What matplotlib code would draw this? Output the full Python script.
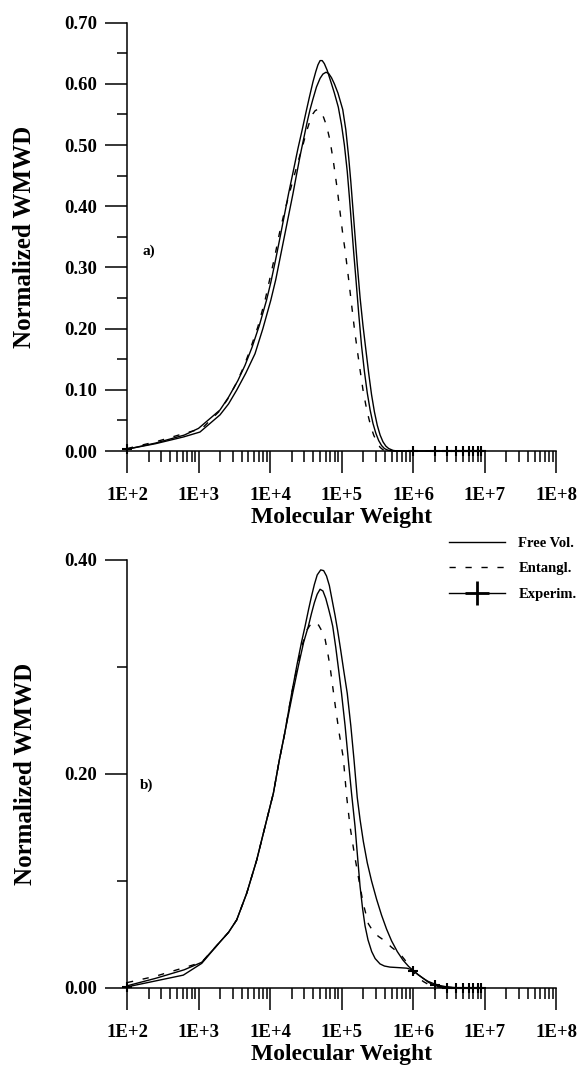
import numpy as np
import matplotlib.pyplot as plt
from matplotlib.lines import Line2D
from matplotlib.ticker import FixedLocator, FuncFormatter, NullFormatter

plt.rcParams['font.family'] = ['Liberation Serif', 'DejaVu Serif']
plt.rcParams['font.weight'] = 'bold'

# === PANEL a) : log10(M) and normalized WMWD ===
a_free_logm = [2.0, 2.4, 2.8, 3.0, 3.3, 3.42, 3.55, 3.65, 3.75, 3.85, 3.95, 4.01, 4.07, 4.13,
               4.2, 4.26, 4.33, 4.39, 4.45, 4.50, 4.55, 4.60, 4.64, 4.67, 4.70, 4.73, 4.76,
               4.80, 4.86, 4.90, 4.955, 5.0, 5.04, 5.08, 5.11, 5.14, 5.17, 5.2, 5.24, 5.28,
               5.32, 5.36, 5.40, 5.44, 5.48, 5.52, 5.56, 5.60, 5.65, 5.72, 6.0, 7.0]
a_free_w = [0.003, 0.013, 0.026, 0.037, 0.067, 0.088, 0.115, 0.14, 0.17, 0.205, 0.246, 0.275,
            0.308, 0.343, 0.385, 0.421, 0.46, 0.494, 0.525, 0.552, 0.578, 0.603, 0.620, 0.631,
            0.638, 0.638, 0.633, 0.622, 0.60, 0.585, 0.562, 0.533, 0.50, 0.457, 0.415, 0.37,
            0.325, 0.283, 0.225, 0.172, 0.13, 0.095, 0.067, 0.045, 0.029, 0.017, 0.009, 0.004,
            0.0012, 0.0, 0.0, 0.0]

a_ent_logm = [2.0, 2.4, 2.75, 3.05, 3.3, 3.42, 3.534, 3.63, 3.72, 3.83, 3.93, 4.0, 4.07, 4.13,
              4.2, 4.28, 4.35, 4.41, 4.46, 4.51, 4.56, 4.60, 4.63, 4.66, 4.69, 4.72, 4.75,
              4.78, 4.81, 4.84, 4.89, 4.94, 4.98, 5.02, 5.05, 5.1, 5.14, 5.18, 5.22, 5.26,
              5.30, 5.34, 5.376, 5.41, 5.45, 5.50, 5.54, 5.58, 5.65, 6.0, 7.0]
a_ent_w = [0.004, 0.015, 0.027, 0.037, 0.066, 0.087, 0.112, 0.137, 0.165, 0.203, 0.246, 0.283,
           0.32, 0.355, 0.39, 0.425, 0.455, 0.48, 0.50, 0.522, 0.540, 0.551, 0.556, 0.558,
           0.557, 0.552, 0.545, 0.535, 0.522, 0.507, 0.47, 0.428, 0.39, 0.352, 0.328, 0.28,
           0.24, 0.20, 0.165, 0.132, 0.10, 0.075, 0.056, 0.04, 0.026, 0.013, 0.006, 0.002,
           0.0, 0.0, 0.0]

a_exp_logm = [2.0, 2.4, 2.79, 3.02, 3.3, 3.42, 3.534, 3.66, 3.79, 3.9, 4.01, 4.08, 4.14, 4.2,
              4.26, 4.32, 4.373, 4.42, 4.47, 4.52, 4.56, 4.60, 4.65, 4.70, 4.74, 4.783, 4.82,
              4.86, 4.90, 4.95, 5.017, 5.06, 5.10, 5.13, 5.16, 5.19, 5.22, 5.26, 5.30, 5.343,
              5.38, 5.42, 5.46, 5.50, 5.54, 5.58, 5.62, 5.66, 5.72, 5.78, 6.0, 7.0]
a_exp_w = [0.003, 0.012, 0.023, 0.031, 0.059, 0.077, 0.0995, 0.127, 0.159, 0.2, 0.246, 0.28,
           0.315, 0.35, 0.385, 0.42, 0.453, 0.482, 0.51, 0.538, 0.558, 0.575, 0.595, 0.609,
           0.616, 0.619, 0.617, 0.610, 0.60, 0.585, 0.558, 0.525, 0.48, 0.44, 0.395, 0.35,
           0.305, 0.25, 0.205, 0.163, 0.127, 0.092, 0.064, 0.042, 0.026, 0.015, 0.008, 0.004,
           0.001, 0.0, 0.0, 0.0]

a_pts_m = [1e2, 1e6, 2e6, 3e6, 4e6, 5e6, 6e6, 7e6, 8e6, 9e6]
a_pts_w = [0.003, 0.0, 0.0, 0.0, 0.0, 0.0, 0.0, 0.0, 0.0, 0.0]

# === PANEL b) ===
b_free_logm = [2.0, 2.4, 2.8, 3.045, 3.3, 3.42, 3.534, 3.674, 3.814, 3.93, 4.047, 4.13, 4.2,
               4.303, 4.38, 4.44, 4.49, 4.54, 4.58, 4.62, 4.66, 4.709, 4.75, 4.79, 4.83, 4.87,
               4.91, 4.946, 4.99, 5.03, 5.08, 5.13, 5.175, 5.22, 5.26, 5.305, 5.36, 5.42, 5.49,
               5.56, 5.63, 5.70, 5.78, 5.86, 5.94, 6.0, 6.07, 6.14, 6.21, 6.284, 6.36, 6.45,
               6.56, 6.66, 7.0]
b_free_w = [0.002, 0.009, 0.017, 0.024, 0.043, 0.052, 0.0636, 0.0885, 0.1196, 0.1508, 0.182,
            0.213, 0.236, 0.2754, 0.303, 0.323, 0.338, 0.354, 0.366, 0.377, 0.386, 0.3907,
            0.390, 0.385, 0.376, 0.362, 0.348, 0.334, 0.315, 0.297, 0.2754, 0.245, 0.213,
            0.178, 0.157, 0.137, 0.117, 0.10, 0.083, 0.068, 0.055, 0.044, 0.034, 0.026, 0.020,
            0.0165, 0.0125, 0.009, 0.0062, 0.0042, 0.0025, 0.0013, 0.0005, 0.0, 0.0]

b_ent_logm = [2.0, 2.4, 2.8, 3.045, 3.3, 3.42, 3.534, 3.674, 3.814, 3.93, 4.047, 4.13, 4.2,
              4.303, 4.38, 4.457, 4.52, 4.58, 4.63, 4.68, 4.73, 4.77, 4.81, 4.84, 4.88, 4.92,
              4.97, 5.025, 5.07, 5.119, 5.18, 5.235, 5.3, 5.375, 5.45, 5.52, 5.585, 5.7, 5.818,
              5.9, 5.982, 6.06, 6.144, 6.21, 6.284, 6.36, 6.45, 7.0]
b_ent_w = [0.005, 0.011, 0.019, 0.024, 0.043, 0.052, 0.0636, 0.0885, 0.1196, 0.1508, 0.182,
           0.213, 0.236, 0.2754, 0.30, 0.322, 0.335, 0.341, 0.342, 0.339, 0.333, 0.326, 0.312,
           0.30, 0.28, 0.26, 0.237, 0.215, 0.18, 0.151, 0.125, 0.104, 0.08, 0.060, 0.052,
           0.048, 0.045, 0.038, 0.032, 0.025, 0.0168, 0.0105, 0.006, 0.0035, 0.002, 0.0008,
           0.0, 0.0]

b_exp_logm = [2.0, 2.787, 3.045, 3.3, 3.42, 3.534, 3.674, 3.814, 3.93, 4.047, 4.13, 4.22,
              4.317, 4.40, 4.47, 4.536, 4.58, 4.62, 4.66, 4.70, 4.74, 4.78, 4.82, 4.85, 4.877,
              4.92, 4.96, 5.0, 5.05, 5.095, 5.14, 5.189, 5.225, 5.259, 5.295, 5.329, 5.37,
              5.422, 5.47, 5.538, 5.6, 5.678, 5.8, 5.912, 5.96, 6.004, 6.07, 6.144, 6.21, 6.284,
              6.35, 6.42, 6.6, 7.0]
b_exp_w = [0.001, 0.012, 0.023, 0.043, 0.052, 0.0636, 0.0885, 0.1196, 0.1508, 0.182, 0.213,
           0.243, 0.2754, 0.302, 0.323, 0.338, 0.350, 0.360, 0.368, 0.3726, 0.371, 0.364,
           0.354, 0.346, 0.338, 0.318, 0.297, 0.2754, 0.245, 0.213, 0.182, 0.151, 0.122,
           0.095, 0.074, 0.058, 0.045, 0.034, 0.0275, 0.0225, 0.0205, 0.0195, 0.019, 0.0185,
           0.0175, 0.0162, 0.0125, 0.009, 0.0055, 0.003, 0.0017, 0.001, 0.0, 0.0]

b_pts_m = [1e2, 1e6, 2e6, 3e6, 4e6, 5e6, 6e6, 7e6, 8e6, 9e6]
b_pts_w = [0.001, 0.0162, 0.003, 0.0, 0.0, 0.0, 0.0, 0.0, 0.0, 0.0]

x_decades = [1e2, 1e3, 1e4, 1e5, 1e6, 1e7, 1e8]

# === FIGURE ===
fig = plt.figure(figsize=(5.84, 10.69), dpi=100)
ax_a = fig.add_axes([0.2175, 0.5781, 0.7346, 0.4007])
ax_b = fig.add_axes([0.2175, 0.0758, 0.7346, 0.4004])

DASH = (4.5, 7)
LW = 1.0


def style_axes(ax, ymax, major, minor):
    ax.set_xscale('log')
    ax.set_xlim(1e2, 1e8)
    ax.set_ylim(0, ymax)
    for s in ['top', 'right']:
        ax.spines[s].set_visible(False)
    for s in ['left', 'bottom']:
        ax.spines[s].set_linewidth(1.1)
    ax.xaxis.set_major_locator(FixedLocator(x_decades))
    ax.xaxis.set_major_formatter(FuncFormatter(lambda v, p: "1E+%d" % round(np.log10(v))))
    minors = [k * d for d in x_decades[:-1] for k in range(2, 10)]
    ax.xaxis.set_minor_locator(FixedLocator(minors))
    ax.xaxis.set_minor_formatter(NullFormatter())
    ax.yaxis.set_major_locator(FixedLocator(major))
    ax.yaxis.set_minor_locator(FixedLocator(minor))
    ax.yaxis.set_major_formatter(FuncFormatter(lambda v, p: "%.2f" % v))
    ax.tick_params(axis='both', which='major', direction='out', length=15.5, width=1.1,
                   labelsize=13.5)
    ax.tick_params(axis='x', which='minor', direction='out', length=8, width=1.1)
    ax.tick_params(axis='y', which='minor', direction='out', length=7.5, width=1.1)
    ax.tick_params(axis='x', which='major', pad=10.5)
    ax.tick_params(axis='y', which='major', pad=6)
    ax.set_xlabel('Molecular Weight', fontsize=17, fontweight='bold', labelpad=2)
    ax.set_ylabel('Normalized WMWD', fontsize=18, fontweight='bold', labelpad=20)


def draw(ax, free, ent, exp, pts):
    ax.plot(10 ** np.array(free[0]), free[1], 'k-', lw=LW, clip_on=False)
    ax.plot(10 ** np.array(ent[0]), ent[1], 'k', lw=LW, dashes=DASH, clip_on=False)
    ax.plot(10 ** np.array(exp[0]), exp[1], 'k-', lw=LW, clip_on=False)
    ax.plot(pts[0], pts[1], 'k+', ls='none', ms=7, mew=1.5, clip_on=False)


draw(ax_a, (a_free_logm, a_free_w), (a_ent_logm, a_ent_w), (a_exp_logm, a_exp_w),
     (a_pts_m, a_pts_w))
draw(ax_b, (b_free_logm, b_free_w), (b_ent_logm, b_ent_w), (b_exp_logm, b_exp_w),
     (b_pts_m, b_pts_w))

style_axes(ax_a, 0.7, np.arange(0, 0.71, 0.1), np.arange(0.05, 0.7, 0.1))
style_axes(ax_b, 0.4, [0.0, 0.2, 0.4], [0.1, 0.3])

ax_a.text(10 ** 2.31, 0.326, 'a)', fontsize=11, fontweight='bold', ha='center', va='center')
ax_b.text(10 ** 2.27, 0.189, 'b)', fontsize=11, fontweight='bold', ha='center', va='center')

# === LEGEND ===
handles = [
    Line2D([], [], color='k', lw=LW),
    Line2D([], [], color='k', lw=LW, dashes=DASH),
    Line2D([], [], color='k', lw=LW, marker='+', ms=7, mew=2),
]
fig.legend(handles, ['Free Vol.', 'Entangl.', 'Experim.'], loc='upper left',
           bbox_to_anchor=(0.769, 0.498), frameon=False, fontsize=10.5,
           handlelength=3.8, handletextpad=0.95, labelspacing=0.84, borderpad=0,
           borderaxespad=0, markerscale=2.5)

plt.savefig('out.png', dpi=100)
